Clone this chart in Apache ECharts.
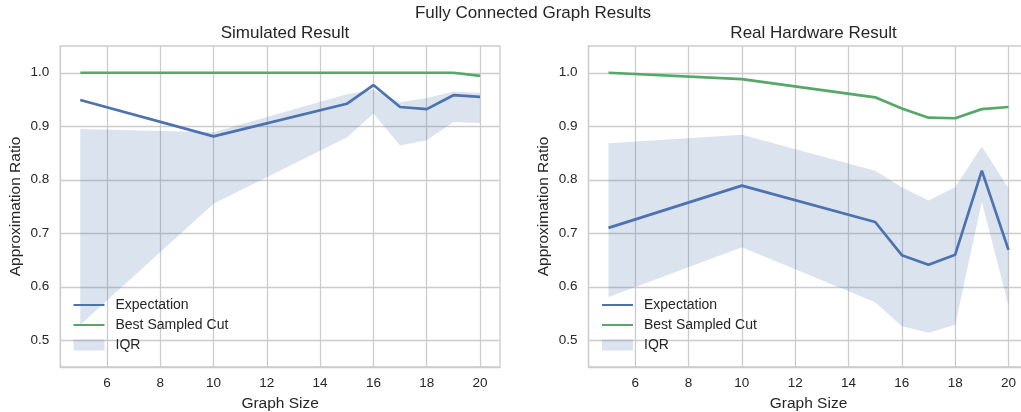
<!DOCTYPE html>
<html>
<head>
<meta charset="utf-8">
<script src="https://cdn.jsdelivr.net/npm/echarts@6/dist/echarts.min.js"></script>
<style>
  html, body { margin: 0; padding: 0; background: #fff; }
  #chart { width: 1021px; height: 412px; }
</style>
</head>
<body>
<div id="chart"></div>
<script>
// ---- data ----
const graphSizes = [5, 10, 15, 16, 17, 18, 19, 20];
const xTicks = [6, 8, 10, 12, 14, 16, 18, 20];
const yTicks = [0.5, 0.6, 0.7, 0.8, 0.9, 1.0];

const simExpectation = [0.949, 0.881, 0.942, 0.977, 0.936, 0.932, 0.958, 0.955];
const simBestCut     = [1.0, 1.0, 1.0, 1.0, 1.0, 1.0, 1.0, 0.994];
const simQ1          = [0.529, 0.755, 0.879, 0.924, 0.864, 0.874, 0.908, 0.906];
const simQ3          = [0.895, 0.889, 0.960, 0.968, 0.945, 0.953, 0.965, 0.962];

const hwExpectation  = [0.710, 0.789, 0.721, 0.659, 0.641, 0.660, 0.817, 0.669];
const hwBestCut      = [1.0, 0.988, 0.954, 0.933, 0.916, 0.915, 0.932, 0.936];
const hwQ1           = [0.581, 0.674, 0.571, 0.526, 0.514, 0.529, 0.759, 0.565];
const hwQ3           = [0.868, 0.884, 0.817, 0.786, 0.761, 0.786, 0.862, 0.784];

const mainTitle = 'Fully Connected Graph Results';
const subTitles = ['Simulated Result', 'Real Hardware Result'];

// ---- style ----
const FONT = 'Liberation Sans, Arial, sans-serif';
const TXT = '#262626';
const BLUE = '#4C72B0';
const GREEN = '#55A868';
const BAND = 'rgba(76,114,176,0.2)';
const GRIDC = '#cccccc';

const chart = echarts.init(document.getElementById('chart'), null, { renderer: 'canvas' });

function pairs(xs, ys) { return xs.map((x, i) => [x, ys[i]]); }

function xAxisDef(idx) {
  return {
    type: 'value', gridIndex: idx, min: 4.25, max: 20.75,
    name: 'Graph Size', nameLocation: 'middle', nameGap: 29,
    nameTextStyle: { fontFamily: FONT, fontSize: 15.5, color: TXT },
    axisLine: { show: true, lineStyle: { color: GRIDC, width: 1.3 } },
    axisTick: { show: false, customValues: xTicks },
    axisLabel: { customValues: xTicks, margin: 9, fontFamily: FONT, fontSize: 13.5, color: TXT },
    splitLine: { show: true, lineStyle: { color: GRIDC, width: 1.3 } }
  };
}
function yAxisDef(idx) {
  return {
    type: 'value', gridIndex: idx, min: 0.45, max: 1.05,
    name: 'Approximation Ratio', nameLocation: 'middle', nameGap: 37,
    nameTextStyle: { fontFamily: FONT, fontSize: 15.5, color: TXT },
    axisLine: { show: true, lineStyle: { color: GRIDC, width: 1.3 } },
    axisTick: { show: false, customValues: yTicks },
    axisLabel: { customValues: yTicks, margin: 11, fontFamily: FONT, fontSize: 13.5, color: TXT,
      formatter: v => Number(v).toFixed(1) },
    splitLine: { show: true, lineStyle: { color: GRIDC, width: 1.3 } }
  };
}

function bandSeries(idx, q1, q3) {
  return {
    type: 'custom', name: 'IQR', xAxisIndex: idx, yAxisIndex: idx, z: 1,
    clip: true,
    itemStyle: { color: BAND },
    data: graphSizes.map((x, i) => [x, q1[i], q3[i]]),
    encode: { x: 0, y: [1, 2] },
    renderItem: function (params, api) {
      if (params.dataIndex !== 0) return null;
      const pts = [];
      for (let i = 0; i < graphSizes.length; i++) pts.push(api.coord([graphSizes[i], q3[i]]));
      for (let i = graphSizes.length - 1; i >= 0; i--) pts.push(api.coord([graphSizes[i], q1[i]]));
      return { type: 'polygon', shape: { points: pts }, style: { fill: BAND } };
    }
  };
}
function lineSeries(idx, name, ys, color) {
  return {
    type: 'line', name: name, xAxisIndex: idx, yAxisIndex: idx, z: 3,
    data: pairs(graphSizes, ys), showSymbol: false, symbol: 'none',
    lineStyle: { color: color, width: 2.7 }, itemStyle: { color: color },
    animation: false
  };
}
function legendDef(idx, left) {
  return {
    orient: 'vertical', left: left, top: 293, itemWidth: 31, itemHeight: 11, itemGap: 6,
    textStyle: { fontFamily: FONT, fontSize: 14, color: TXT, lineHeight: 14, padding: [0, 0, 0, 6] },
    data: [
      { name: 'Expectation', itemStyle: { opacity: 0 } },
      { name: 'Best Sampled Cut', itemStyle: { opacity: 0 } },
      { name: 'IQR', icon: 'rect' }
    ],
    selectedMode: false
  };
}

const option = {
  animation: false,
  backgroundColor: '#ffffff',
  title: [
    { text: mainTitle, left: 528, top: 0, textAlign: 'center',
      textStyle: { fontFamily: FONT, fontSize: 17, fontWeight: 'normal', color: TXT } },
    { text: subTitles[0], left: 280, top: 20, textAlign: 'center',
      textStyle: { fontFamily: FONT, fontSize: 17, fontWeight: 'normal', color: TXT } },
    { text: subTitles[1], left: 808.5, top: 20, textAlign: 'center',
      textStyle: { fontFamily: FONT, fontSize: 17, fontWeight: 'normal', color: TXT } }
  ],
  grid: [
    { left: 60.3, top: 46, width: 439.7, height: 321, outerBoundsMode: 'none', containLabel: false,
      show: true, borderColor: GRIDC, borderWidth: 1.3, backgroundColor: 'transparent' },
    { left: 588.5, top: 46, width: 440, height: 321, outerBoundsMode: 'none', containLabel: false,
      show: true, borderColor: GRIDC, borderWidth: 1.3, backgroundColor: 'transparent' }
  ],
  legend: [legendDef(0, 67.5), legendDef(1, 596)],
  xAxis: [xAxisDef(0), xAxisDef(1)],
  yAxis: [yAxisDef(0), yAxisDef(1)],
  series: [
    bandSeries(0, simQ1, simQ3),
    lineSeries(0, 'Expectation', simExpectation, BLUE),
    lineSeries(0, 'Best Sampled Cut', simBestCut, GREEN),
    bandSeries(1, hwQ1, hwQ3),
    lineSeries(1, 'Expectation', hwExpectation, BLUE),
    lineSeries(1, 'Best Sampled Cut', hwBestCut, GREEN)
  ]
};
chart.setOption(option);
</script>
</body>
</html>
